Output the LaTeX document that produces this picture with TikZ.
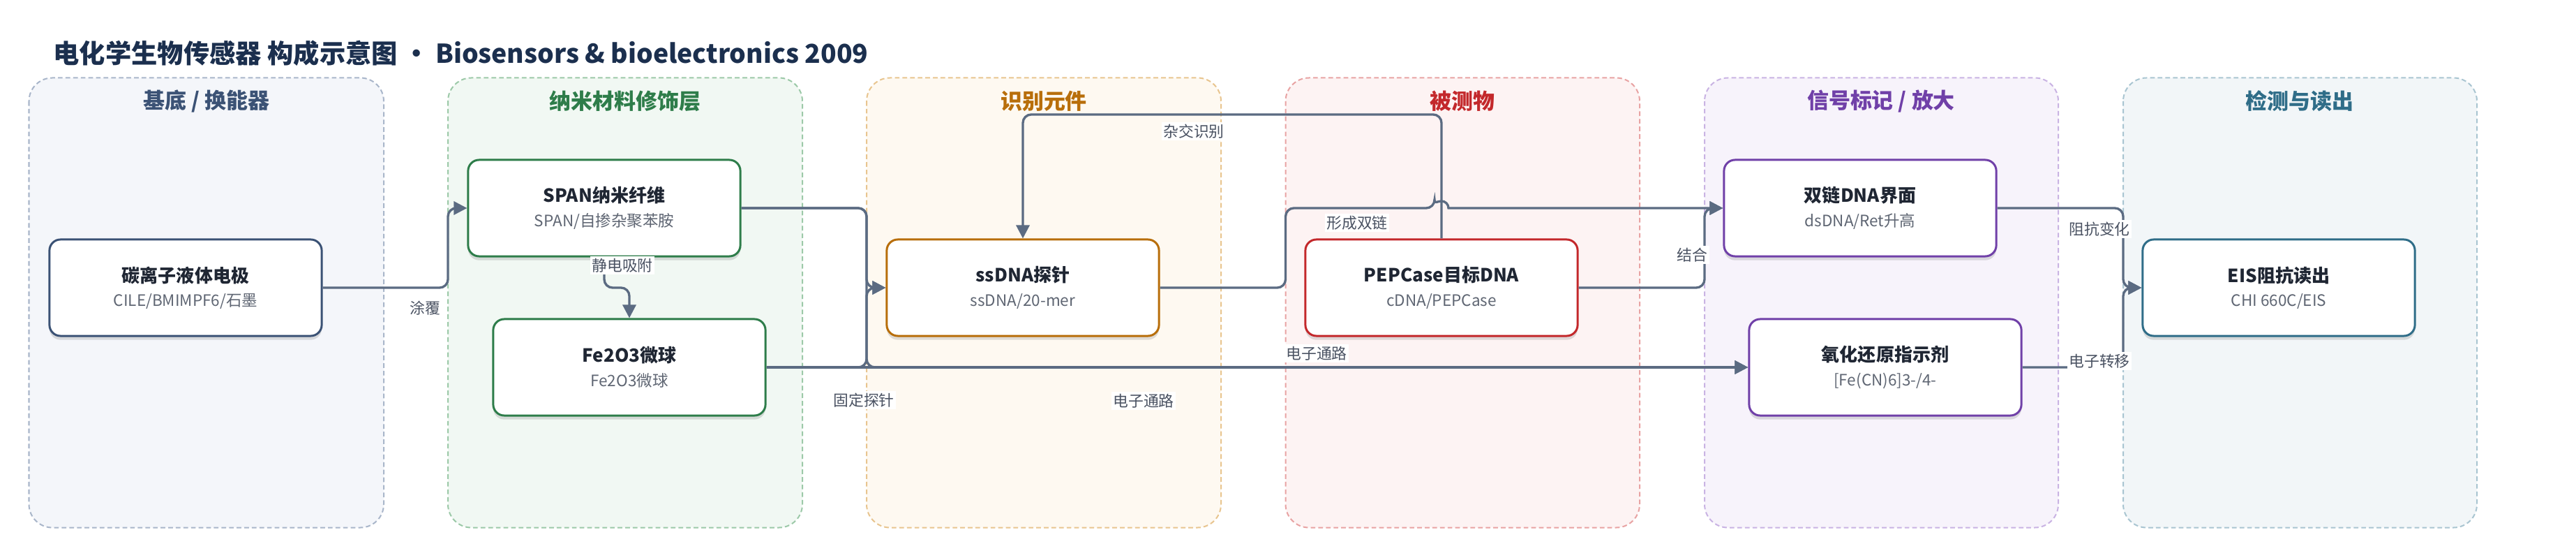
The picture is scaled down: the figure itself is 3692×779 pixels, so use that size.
\documentclass[tikz,border=0pt]{standalone}
\usepackage{fontspec}
\setmainfont{Noto Sans CJK SC}
\usetikzlibrary{arrows.meta,calc,shadows}

\definecolor{headink}{HTML}{1B2F4E}
\definecolor{boxink}{HTML}{1F2633}
\definecolor{subink}{HTML}{5F6673}
\definecolor{tagink}{HTML}{4A5262}
\definecolor{edge}{HTML}{5B6B82}
\definecolor{c1fill}{HTML}{F4F6FA}\definecolor{c1line}{HTML}{A9B6CA}\definecolor{c1ink}{HTML}{3B5275}
\definecolor{c2fill}{HTML}{F1F8F3}\definecolor{c2line}{HTML}{9CC9A8}\definecolor{c2ink}{HTML}{2E7D4A}
\definecolor{c3fill}{HTML}{FEF9F1}\definecolor{c3line}{HTML}{E8C58F}\definecolor{c3ink}{HTML}{B86E0A}
\definecolor{c4fill}{HTML}{FDF3F3}\definecolor{c4line}{HTML}{E8A3A3}\definecolor{c4ink}{HTML}{C3282B}
\definecolor{c5fill}{HTML}{F7F3FB}\definecolor{c5line}{HTML}{C9B3E3}\definecolor{c5ink}{HTML}{7040A8}
\definecolor{c6fill}{HTML}{F2F6F8}\definecolor{c6line}{HTML}{A9C5D1}\definecolor{c6ink}{HTML}{2F6D88}

\newcommand{\boxtext}[2]{{\bfseries\color{boxink}\fontsize{7.4}{9.8}\selectfont #1}\\{\color{subink}#2}}

\begin{document}
\begin{tikzpicture}[x=0.01cm,y=-0.01cm,
  lane/.style={draw=#1line,fill=#1fill,line width=0.57pt,dash pattern=on 1.9pt off 1.2pt,rounded corners=9.5pt},
  lanetitle/.style={text=#1ink,font=\bfseries\fontsize{8.8}{10}\selectfont,inner sep=0pt},
  box/.style={draw=#1ink,fill=white,line width=0.85pt,rounded corners=4.5pt,minimum width=3.9cm,minimum height=1.38cm,
    align=center,inner sep=0pt,font=\fontsize{6.4}{9.8}\selectfont,
    drop shadow={shadow xshift=0pt,shadow yshift=-1.6pt,opacity=0.12,fill=black}},
  flow/.style={draw=edge,line width=0.95pt,rounded corners=3.4pt,-{Triangle[length=5.4pt,width=5.4pt]}},
  tag/.style={fill=white,inner sep=0.8pt,text=tagink,font=\fontsize{6.2}{7}\selectfont}]
\useasboundingbox (0,0) rectangle (3692,779);

\node[anchor=west,inner sep=0pt,text=headink,font=\bfseries\fontsize{10.6}{12}\selectfont] (head) at (76,76)
  {电化学生物传感器 构成示意图 · Biosensors \& bioelectronics 2009};

\draw[lane=c1] (41.5,111.5) rectangle (550,755.5);
\draw[lane=c2] (642,111.5) rectangle (1150,755.5);
\draw[lane=c3] (1242,111.5) rectangle (1750,755.5);
\draw[lane=c4] (1842.5,111.5) rectangle (2350,755.5);
\draw[lane=c5] (2443,111.5) rectangle (2950,755.5);
\draw[lane=c6] (3043,111.5) rectangle (3550,755.5);
\node[lanetitle=c1] (t1) at (296,145) {基底 / 换能器};
\node[lanetitle=c2] (t2) at (896,145) {纳米材料修饰层};
\node[lanetitle=c3] (t3) at (1496,145) {识别元件};
\node[lanetitle=c4] (t4) at (2096,145) {被测物};
\node[lanetitle=c5] (t5) at (2696,145) {信号标记 / 放大};
\node[lanetitle=c6] (t6) at (3296,145) {检测与读出};

\coordinate (lane2) at (642,0);
\coordinate (lane3) at (1242,0);
\coordinate (lane4) at (1842.5,0);
\coordinate (lane5) at (2443,0);
\coordinate (lane6) at (3043,0);
\coordinate (hyb) at (0,164);

\node[box=c1] (elec) at (266,412) {\boxtext{碳离子液体电极}{CILE/BMIMPF6/石墨}};
\node[box=c2] (span) at (866,298) {\boxtext{SPAN纳米纤维}{SPAN/自掺杂聚苯胺}};
\node[box=c2] (fe) at (902,526) {\boxtext{Fe2O3微球}{Fe2O3微球}};
\node[box=c3] (probe) at (1466,412) {\boxtext{ssDNA探针}{ssDNA/20-mer}};
\node[box=c4] (target) at (2066,412) {\boxtext{PEPCase目标DNA}{cDNA/PEPCase}};
\node[box=c5] (dsdna) at (2666,298) {\boxtext{双链DNA界面}{dsDNA/Ret升高}};
\node[box=c5] (redox) at (2702,526) {\boxtext{氧化还原指示剂}{[Fe(CN)6]3-/4-}};
\node[box=c6] (eis) at (3266,412) {\boxtext{EIS阻抗读出}{CHI 660C/EIS}};

\draw[flow] (elec.east) -| (lane2 |- span.west) -- (span.west);
\draw[flow] (span.south) |- (fe.north |- elec.east) -- (fe.north);
\draw[flow] (span.east) -| (lane3 |- probe.west) -- (probe.west);
\draw[flow] (span.east) -| (lane3 |- redox.west) -- (redox.west);
\draw[flow] (fe.east) -| (lane3 |- probe.west) -- (probe.west);
\draw[flow] (fe.east) -- (redox.west);
\draw[flow] (target.north) |- (probe.north |- hyb) -- (probe.north);
\draw[flow] (probe.east) -| (lane4 |- dsdna.west) -- ($(target.north |- dsdna.west)+(-10,0)$) [sharp corners]
  arc[start angle=180,end angle=360,radius=10] -- (dsdna.west);
\draw[flow] (target.east) -| (lane5 |- dsdna.west) -- (dsdna.west);
\draw[flow] (dsdna.east) -| (lane6 |- eis.west) -- (eis.west);
\draw[flow] (redox.east) -| (lane6 |- eis.west) -- (eis.west);

\node[tag] (coat) at (609,441) {涂覆};
\node[tag] (adsorb) at (892,380) {静电吸附};
\node[tag] (fix) at (1238,573) {固定探针};
\node[tag] (path1) at (1639,574) {电子通路};
\node[tag] (path2) at (1887,506) {电子通路};
\node[tag] (hybrid) at (1711,188) {杂交识别};
\node[tag] (duplex) at (1945,319) {形成双链};
\node[tag] (bind) at (2425,365) {结合};
\node[tag] (imped) at (3009,328) {阻抗变化};
\node[tag] (etrans) at (3009,517) {电子转移};
\end{tikzpicture}
\end{document}
